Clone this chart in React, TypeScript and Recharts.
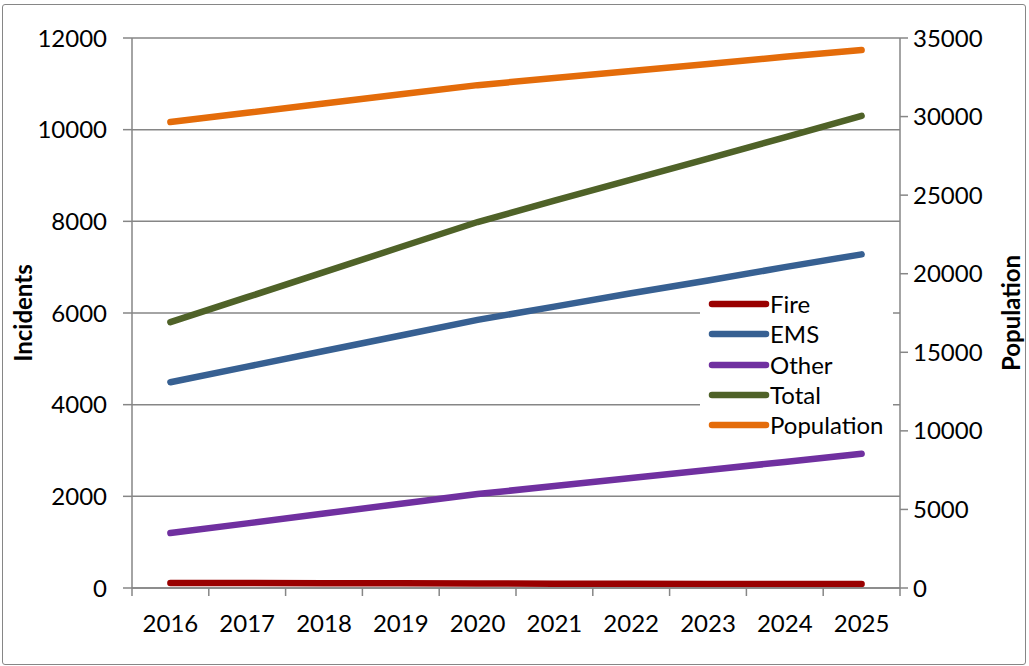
import { LineChart, Line, XAxis, YAxis, CartesianGrid, Legend, Label } from "recharts";

const years = ["2016", "2017", "2018", "2019", "2020", "2021", "2022", "2023", "2024", "2025"];
const fire = [110, 107, 104, 101, 98, 95, 93, 90, 88, 85];
const ems = [4490, 4830, 5170, 5510, 5850, 6140, 6430, 6710, 7000, 7280];
const other = [1200, 1410, 1625, 1840, 2050, 2225, 2400, 2575, 2750, 2930];
const total = [5800, 6345, 6890, 7440, 7985, 8450, 8910, 9370, 9830, 10300];
const population = [29650, 30240, 30830, 31420, 32000, 32450, 32900, 33350, 33800, 34240];

const leftTicks = [0, 2000, 4000, 6000, 8000, 10000, 12000];
const rightTicks = [0, 5000, 10000, 15000, 20000, 25000, 30000, 35000];

const series = [
  { key: "Fire", color: "#990000", axis: "left" },
  { key: "EMS", color: "#376092", axis: "left" },
  { key: "Other", color: "#7030a0", axis: "left" },
  { key: "Total", color: "#4f6228", axis: "left" },
  { key: "Population", color: "#e46c0a", axis: "right" },
];

const data = years.map((year, i) => ({
  year,
  Fire: fire[i],
  EMS: ems[i],
  Other: other[i],
  Total: total[i],
  Population: population[i],
}));

const FONT = "Lato, 'Open Sans', sans-serif";
const GRAY = "#868686";
const FS = 24;

const axisTitle = (dx: number) => (props: any) => {
  const vb = props.viewBox;
  const cx = vb.x + dx;
  const cy = vb.y + vb.height / 2;
  return (
    <text
      x={cx}
      y={cy}
      transform={`rotate(-90 ${cx} ${cy})`}
      textAnchor="middle"
      dominantBaseline="central"
      fontWeight="bold"
      fontSize={FS}
      fontFamily={FONT}
      fill="#000"
    >
      {props.value}
    </text>
  );
};

// Excel style: tick marks sit between categories
const YearTick = (props: any) => {
  const { x, y, payload, index, visibleTicksCount } = props;
  const band = 76.8;
  return (
    <g>
      <line x1={x - band / 2} x2={x - band / 2} y1={y - 8} y2={y} stroke={GRAY} strokeWidth={1.5} />
      {index === visibleTicksCount - 1 && (
        <line x1={x + band / 2} x2={x + band / 2} y1={y - 8} y2={y} stroke={GRAY} strokeWidth={1.5} />
      )}
      <text x={x} y={y + 26} textAnchor="middle" dominantBaseline="central" fontSize={FS} fontFamily={FONT} fill="#000">
        {payload.value}
      </text>
    </g>
  );
};

const LegendBox = () => (
  <div style={{ background: "#fff", width: 193, height: 150, position: "relative" }}>
    {series.map((s, i) => (
      <div
        key={s.key}
        style={{
          position: "absolute",
          left: 8,
          top: i * 30.3,
          height: 30,
          display: "flex",
          alignItems: "center",
        }}
      >
        <svg width={62} height={10}>
          <line x1={4} x2={58} y1={5} y2={5} stroke={s.color} strokeWidth={6.5} strokeLinecap="round" />
        </svg>
        <span style={{ fontFamily: FONT, fontSize: FS, color: "#000", lineHeight: "30px" }}>{s.key}</span>
      </div>
    ))}
  </div>
);

export default function App() {
  return (
    <div style={{ position: "absolute", left: 0, top: 0, width: 1029, height: 666, background: "#fff" }}>
      <div
        style={{
          position: "absolute",
          left: 2,
          top: 4,
          width: 1022,
          height: 659,
          border: `1.5px solid ${GRAY}`,
          borderRadius: 3,
        }}
      />
      <LineChart
        width={1029}
        height={666}
        data={data}
        margin={{ top: 38, right: 0, left: 0, bottom: 0 }}
        style={{ fontFamily: FONT }}
      >
        <CartesianGrid yAxisId="left" vertical={false} stroke={GRAY} strokeWidth={1.5} />
        <XAxis
          dataKey="year"
          scale="band"
          height={78}
          tickSize={8}
          tickMargin={0}
          tickLine={false}
          stroke={GRAY}
          strokeWidth={1.5}
          tick={<YearTick />}
          interval={0}
        />
        <YAxis
          yAxisId="left"
          width={132}
          domain={[0, 12000]}
          ticks={leftTicks}
          interval={0}
          tickSize={9}
          tickMargin={16}
          stroke={GRAY}
          strokeWidth={1.5}
          tick={{ fill: "#000", fontSize: FS, fontFamily: FONT }}
        >
          <Label value="Incidents" content={axisTitle(22)} />
        </YAxis>
        <YAxis
          yAxisId="right"
          orientation="right"
          width={129}
          domain={[0, 35000]}
          ticks={rightTicks}
          interval={0}
          tickSize={8}
          tickMargin={5}
          stroke={GRAY}
          strokeWidth={1.5}
          tick={{ fill: "#000", fontSize: FS, fontFamily: FONT }}
        >
          <Label value="Population" content={axisTitle(110)} />
        </YAxis>
        {series.map((s) => (
          <Line
            key={s.key}
            yAxisId={s.axis}
            dataKey={s.key}
            stroke={s.color}
            strokeWidth={6.5}
            strokeLinecap="round"
            dot={false}
            activeDot={false}
            type="linear"
            isAnimationActive={false}
          />
        ))}
        <Legend
          layout="vertical"
          verticalAlign="middle"
          align="center"
          content={<LegendBox />}
          wrapperStyle={{ left: 700, top: 289, width: 193, height: 150 }}
        />
      </LineChart>
    </div>
  );
}
